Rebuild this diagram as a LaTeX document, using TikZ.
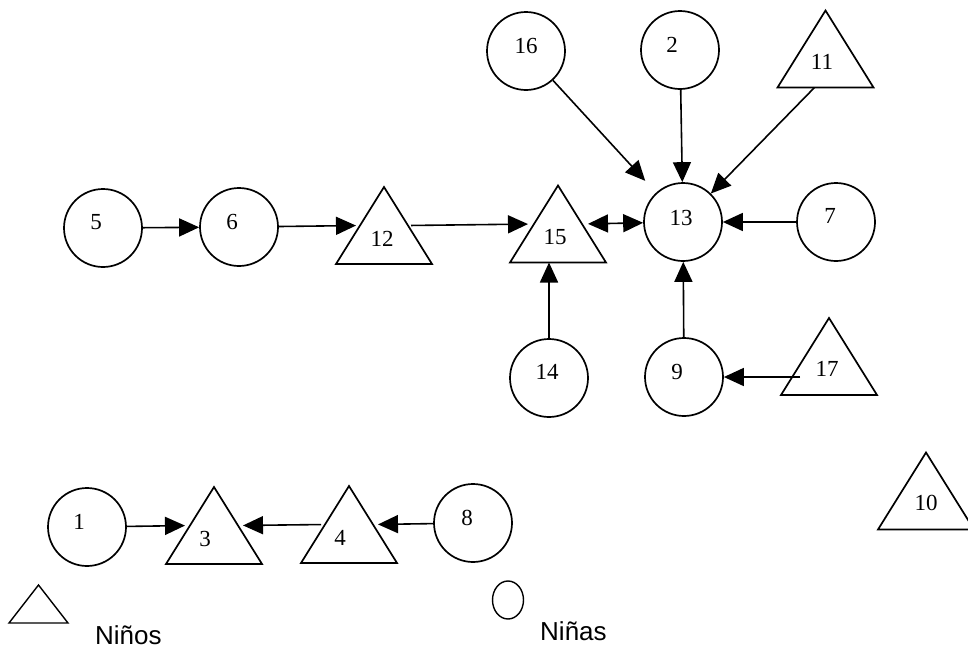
\documentclass[tikz,border=0pt]{standalone}
\usepackage{fontspec}
\setmainfont{Liberation Serif}
\newfontfamily\legfont{Liberation Sans}
\usetikzlibrary{arrows.meta,calc,shapes.geometric}
\begin{document}
\begin{tikzpicture}[x=1pt,y=-1pt,
  circ/.style={circle,draw,line width=1.7pt,minimum size=78pt,inner sep=0pt},
  tribox/.style={minimum width=96pt,minimum height=77pt,inner sep=0pt,outer sep=0pt},
  triline/.style={draw,line width=1.7pt,line join=miter},
  num/.style={font=\fontsize{23}{23}\selectfont,inner sep=0pt},
  arr/.style={line width=1.6pt,-{Triangle[length=20pt,width=18pt]}},
  dbl/.style={line width=1.6pt,{Triangle[length=20pt,width=18pt]}-{Triangle[length=20pt,width=18pt]}},
  leg/.style={font=\legfont\fontsize{26}{26}\selectfont,inner sep=0pt,anchor=base west}]
\fill[white] (0,0) rectangle (968,648);
\useasboundingbox (0,0) rectangle (968,648);

% circles (girls)
\node[circ] (c16) at (526,51) {};
\node[circ] (c2) at (680,50) {};
\node[circ] (c5) at (103,228) {};
\node[circ] (c6) at (239,227) {};
\node[circ] (c13) at (683,222) {};
\node[circ] (c7) at (836,222) {};
\node[circ] (c14) at (549,378) {};
\node[circ] (c9) at (684,377) {};
\node[circ] (c1) at (87,527) {};
\node[circ] (c8) at (473,523) {};

% triangles (boys)
\node[tribox] (t11) at (825.5,49) {};
\node[tribox] (t12) at (384,225.5) {};
\node[tribox] (t15) at (558,224) {};
\node[tribox] (t17) at (829,356.5) {};
\node[tribox] (t3) at (214,525.5) {};
\node[tribox] (t4) at (349,524.5) {};
\node[tribox] (t10) at (926,491) {};
\node[tribox,minimum width=59pt,minimum height=38pt] (tleg) at (38.5,604) {};
\foreach \t in {t11,t12,t15,t17,t3,t4,t10} \draw[triline] (\t.north) -- (\t.south east) -- (\t.south west) -- cycle;
\draw[triline,line width=1.4pt] (tleg.north) -- (tleg.south east) -- (tleg.south west) -- cycle;

% labels
\node[num] (l16) at (526,46) {16};
\node[num] (l2) at (672,45) {2};
\node[num] (l11) at (822,62) {11};
\node[num] (l5) at (96,222) {5};
\node[num] (l6) at (232,222) {6};
\node[num] (l12) at (382,239) {12};
\node[num] (l15) at (555,237) {15};
\node[num] (l13) at (681,218) {13};
\node[num] (l7) at (830,216) {7};
\node[num] (l14) at (547,372) {14};
\node[num] (l9) at (677,372) {9};
\node[num] (l17) at (827,369) {17};
\node[num] (l1) at (79,522) {1};
\node[num] (l3) at (205,539) {3};
\node[num] (l4) at (340,538) {4};
\node[num] (l8) at (467,518) {8};
\node[num] (l10) at (926,503) {10};

% connectors
\draw[arr] (c5) -- (c6);
\draw[arr,shorten >=4pt] (c6) -- ($(t12.north)!.5!(t12.south west)$);
\draw[arr,shorten <=3pt,shorten >=6pt] ($(t12.north)!.5!(t12.south east)$) -- ($(t15.north)!.5!(t15.south west)$);
\draw[dbl,shorten <=6pt] ($(t15.north)!.5!(t15.south east)$) -- (c13);
\draw[arr,shorten >=16pt] (c16) -- (c13);
\draw[arr] (c2) -- (c13);
\draw[arr] ([xshift=-11pt]t11.south) -- (c13);
\draw[arr] (c7) -- (c13);
\draw[arr] (c9) -- (c13);
\draw[arr] (c14) -- (c14 |- t15.south);
\draw[arr] ($(t17.center |- c9)+(-29,0)$) -- (c9);
\draw[arr,shorten >=5pt] (c1) -- ($(t3.north)!.5!(t3.south west)$);
\draw[arr,shorten <=4pt,shorten >=5pt] ($(t4.north)!.5!(t4.south west)$) -- ($(t3.north)!.5!(t3.south east)$);
\draw[arr,shorten >=5pt] (c8) -- ($(t4.north)!.5!(t4.south east)$);

% legend
\node[ellipse,draw,line width=1.4pt,minimum width=31pt,minimum height=38pt,inner sep=0pt] (eleg) at (508,600) {};
\node[leg] (lninos) at (95,644) {Niños};
\node[leg] (lninas) at (540,640) {Niñas};
\end{tikzpicture}
\end{document}
